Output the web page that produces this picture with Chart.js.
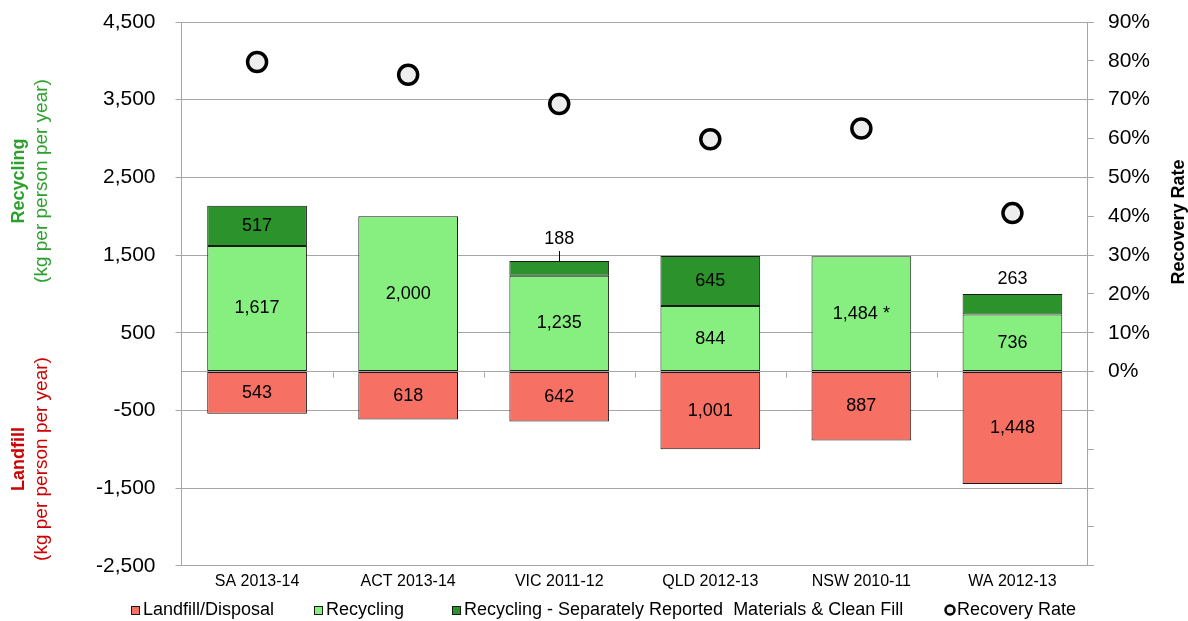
<!DOCTYPE html>
<html>
<head>
<meta charset="utf-8">
<script src="https://cdn.jsdelivr.net/npm/chart.js@4.4.0/dist/chart.umd.min.js"></script>
<style>
  html, body { margin: 0; padding: 0; background: #fff; }
  #wrap { width: 1188px; height: 621px; }
</style>
</head>
<body>
<div id="wrap"><canvas id="wasteChart"></canvas></div>
<script>
const categories = ['SA 2013-14', 'ACT 2013-14', 'VIC 2011-12', 'QLD 2012-13', 'NSW 2010-11', 'WA 2012-13'];
const landfill = [-543, -618, -642, -1001, -887, -1448];
const recycling = [1617, 2000, 1235, 844, 1484, 736];
const separatelyReported = [517, 0, 188, 645, 0, 263];
const recoveryRate = [79.7, 76.4, 68.9, 59.8, 62.6, 40.8];
const recyclingNotes = ['', '', '', '', ' *', ''];
const leftTicks = [-2500, -1500, -500, 0, 500, 1500, 2500, 3500, 4500];

const FONT = '"Liberation Sans", Arial, sans-serif';
const GRID = '#a6a6a6';
const EDGE = '#1a1a1a';
Chart.defaults.font.family = FONT;
Chart.defaults.color = '#000';

function vText(ctx, text, x, y, font, color) {
  ctx.save();
  ctx.translate(x, y);
  ctx.rotate(-Math.PI / 2);
  ctx.font = font;
  ctx.fillStyle = color;
  ctx.textAlign = 'center';
  ctx.textBaseline = 'middle';
  ctx.fillText(text, 0, 0);
  ctx.restore();
}

// tick padding also pads the vertical scales top and bottom; undo that
function trimPadding(scale) {
  scale.paddingTop = 0;
  scale.paddingBottom = 0;
}

// value labels inside / above the bar segments
const valueLabels = {
  id: 'valueLabels',
  afterDatasetsDraw(chart) {
    const ctx = chart.ctx;
    ctx.save();
    ctx.font = '18px ' + FONT;
    ctx.fillStyle = '#000';
    ctx.strokeStyle = '#000';
    ctx.lineWidth = 1;
    ctx.textAlign = 'center';
    ctx.textBaseline = 'middle';
    [0, 1, 2].forEach(di => {
      chart.getDatasetMeta(di).data.forEach((bar, i) => {
        const v = chart.data.datasets[di].data[i];
        if (!v) return;
        let text = Math.abs(v).toLocaleString('en-US');
        if (di === 1) text += recyclingNotes[i];
        const top = Math.min(bar.y, bar.base);
        const h = Math.abs(bar.base - bar.y);
        if (h >= 26) {
          ctx.fillText(text, bar.x, (bar.y + bar.base) / 2);
        } else if (h >= 16) {
          ctx.fillText(text, bar.x, top - 15);
        } else {
          ctx.fillText(text, bar.x, top - 22);
          ctx.beginPath();
          ctx.moveTo(Math.round(bar.x) + 0.5, top - 10);
          ctx.lineTo(Math.round(bar.x) + 0.5, top);
          ctx.stroke();
        }
      });
    });
    ctx.restore();
  }
};

// axis titles, category ticks on the zero line, legend row
const extras = {
  id: 'extras',
  afterDraw(chart) {
    const ctx = chart.ctx;
    const y = chart.scales.y;
    const x = chart.scales.x;
    const zero = Math.round(y.getPixelForValue(0)) + 0.5;
    ctx.save();
    ctx.strokeStyle = GRID;
    ctx.lineWidth = 1;
    const step = (x.right - x.left) / categories.length;
    for (let i = 1; i < categories.length; i++) {
      const px = Math.round(x.left + step * i) + 0.5;
      ctx.beginPath();
      ctx.moveTo(px, zero);
      ctx.lineTo(px, zero + 5);
      ctx.stroke();
    }
    ctx.restore();

    const green = '#2ca02c', red = '#cc0000';
    vText(ctx, 'Recycling', 19, 181, 'bold 18px ' + FONT, green);
    vText(ctx, '(kg per person per year)', 42, 181, '19px ' + FONT, green);
    vText(ctx, 'Landfill', 19, 459, 'bold 18px ' + FONT, red);
    vText(ctx, '(kg per person per year)', 42, 459, '19px ' + FONT, red);
    vText(ctx, 'Recovery Rate', 1179, 222, 'bold 18px ' + FONT, '#000');

    // legend
    const legendX = [131, 314, 452, 945];
    const ly = 610;
    ctx.save();
    ctx.font = '18px ' + FONT;
    ctx.textBaseline = 'middle';
    ctx.textAlign = 'left';
    chart.data.datasets.forEach((ds, i) => {
      const mx = legendX[i];
      if (ds.type === 'line') {
        ctx.beginPath();
        ctx.arc(mx + 5, ly, 4.5, 0, Math.PI * 2);
        ctx.fillStyle = ds.pointBackgroundColor;
        ctx.fill();
        ctx.lineWidth = 2.5;
        ctx.strokeStyle = ds.pointBorderColor;
        ctx.stroke();
      } else {
        ctx.fillStyle = ds.backgroundColor;
        ctx.fillRect(mx, ly - 4, 9, 9);
        ctx.lineWidth = 1;
        ctx.strokeStyle = EDGE;
        ctx.strokeRect(mx + 0.5, ly - 3.5, 8, 8);
      }
      ctx.fillStyle = '#000';
      ctx.fillText(ds.label, mx + 12, ly);
    });
    ctx.restore();
  }
};

new Chart(document.getElementById('wasteChart'), {
  type: 'bar',
  data: {
    labels: categories,
    datasets: [
      {
        label: 'Landfill/Disposal',
        data: landfill,
        backgroundColor: '#f77064',
        borderColor: EDGE,
        borderWidth: 1,
        borderSkipped: false,
        order: 1
      },
      {
        label: 'Recycling',
        data: recycling,
        backgroundColor: '#86ef80',
        borderColor: EDGE,
        borderWidth: 1,
        borderSkipped: false,
        order: 1
      },
      {
        label: 'Recycling - Separately Reported  Materials & Clean Fill',
        data: separatelyReported,
        backgroundColor: '#2c922c',
        borderColor: EDGE,
        borderWidth: 1,
        borderSkipped: false,
        order: 1
      },
      {
        type: 'line',
        label: 'Recovery Rate',
        data: recoveryRate,
        yAxisID: 'y2',
        showLine: false,
        pointRadius: 9.5,
        pointHoverRadius: 9.5,
        pointBorderWidth: 3.5,
        pointBackgroundColor: '#eeeeee',
        pointBorderColor: '#000',
        backgroundColor: '#eeeeee',
        borderColor: '#000',
        order: 0
      }
    ]
  },
  options: {
    responsive: true,
    maintainAspectRatio: false,
    animation: false,
    datasets: {
      bar: { categoryPercentage: 1, barPercentage: 0.66 }
    },
    layout: { autoPadding: false, padding: { left: 76, right: 24, top: 22, bottom: 24 } },
    scales: {
      x: {
        stacked: true,
        grid: { display: false, drawTicks: false },
        border: { display: true, color: GRID },
        ticks: { padding: 6, font: { size: 16 }, color: '#000' }
      },
      y: {
        stacked: true,
        min: -2500,
        max: 4500,
        afterBuildTicks: scale => { scale.ticks = leftTicks.map(v => ({ value: v })); },
        afterFit: trimPadding,
        grid: {
          color: GRID,
          tickLength: 6,
          tickColor: c => (c.tick && c.tick.value === 0 ? 'rgba(0,0,0,0)' : GRID)
        },
        border: { color: GRID },
        ticks: {
          padding: 20,
          font: { size: 21 },
          color: '#000',
          callback: v => (v === 0 ? '' : v.toLocaleString('en-US'))
        }
      },
      y2: {
        position: 'right',
        min: -50,
        max: 90,
        afterFit: trimPadding,
        grid: { drawOnChartArea: false, color: GRID, tickLength: 6 },
        border: { color: GRID },
        ticks: {
          stepSize: 10,
          padding: 14,
          font: { size: 21 },
          color: '#000',
          callback: v => (v < 0 ? '' : v + '%')
        }
      }
    },
    plugins: {
      legend: { display: false },
      tooltip: { enabled: false }
    }
  },
  plugins: [valueLabels, extras]
});
</script>
</body>
</html>
